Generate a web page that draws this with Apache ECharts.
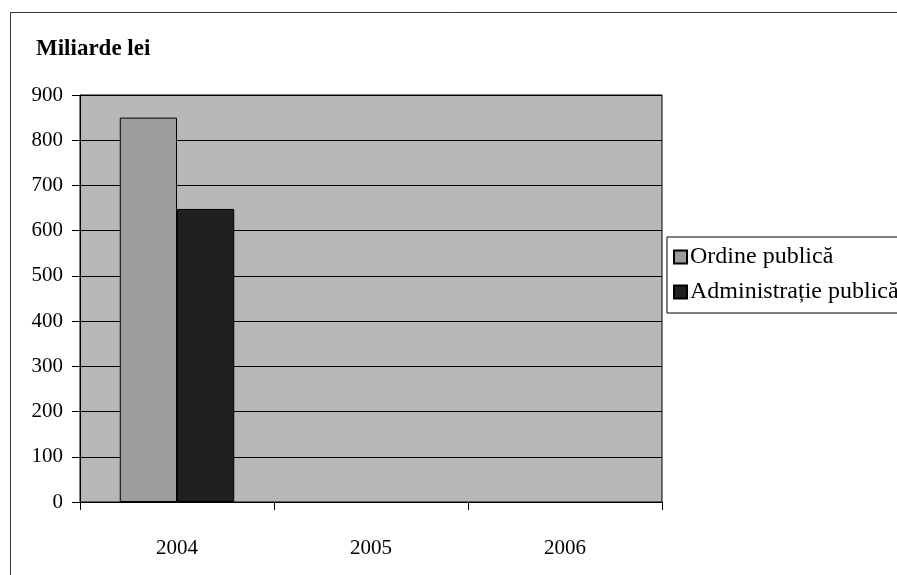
<!DOCTYPE html>
<html><head><meta charset="utf-8">
<script src="https://cdn.jsdelivr.net/npm/echarts@6/dist/echarts.min.js"></script>
<style>html,body{margin:0;padding:0;background:#fff}#c{width:897px;height:575px}</style>
</head><body><div id="c"></div>
<script>
const categories = ['2004', '2005', '2006'];
const ordinePublica = [850, null, null];
const administratiePublica = [648, null, null];
const yTicks = [0, 100, 200, 300, 400, 500, 600, 700, 800, 900];

const chart = echarts.init(document.getElementById('c'));
const serif = '"Liberation Serif", "DejaVu Serif", serif';
chart.setOption({
  animation: false,
  backgroundColor: '#fff',
  title: {
    text: 'Miliarde lei', left: 31, top: 33,
    textStyle: { fontFamily: serif, fontSize: 23, fontWeight: 'bold', color: '#000' }
  },
  graphic: [{
    type: 'rect', shape: { x: 10.5, y: 12.5, width: 900, height: 600 },
    style: { fill: 'none', stroke: '#333', lineWidth: 1 }, silent: true
  }],
  legend: {
    orient: 'vertical', left: 667, top: 237,
    itemWidth: 13, itemHeight: 13, itemGap: 11,
    padding: [8, 30, 9, 6],
    borderColor: '#000', borderWidth: 1, backgroundColor: '#fff',
    icon: 'rect',
    textStyle: { fontFamily: serif, fontSize: 24, color: '#000', padding: [0, 0, 0, -2] },
    data: ['Ordine publică', 'Administrație publică']
  },
  grid: {
    left: 80, top: 95, width: 582, height: 407,
    show: true, backgroundColor: '#b7b7b7', borderColor: '#000', borderWidth: 1
  },
  xAxis: {
    type: 'category', data: categories,
    axisLine: { lineStyle: { color: '#000' } },
    axisTick: { show: true, length: 8, lineStyle: { color: '#000' } },
    axisLabel: { fontFamily: serif, fontSize: 21, color: '#000', margin: 36 }
  },
  yAxis: {
    type: 'value', min: 0, max: 900, interval: 100,
    axisLine: { show: true, lineStyle: { color: '#000' } },
    axisTick: { show: true, length: 8, lineStyle: { color: '#000' } },
    splitLine: { lineStyle: { color: '#000', width: 1 } },
    axisLabel: { fontFamily: serif, fontSize: 21, color: '#000', margin: 17,
      formatter: v => yTicks.includes(v) ? String(v) : '' }
  },
  series: [
    { name: 'Ordine publică', type: 'bar', data: ordinePublica,
      barGap: '0%', barCategoryGap: '41%',
      itemStyle: { color: '#9c9c9c', borderColor: '#000', borderWidth: 1 } },
    { name: 'Administrație publică', type: 'bar', data: administratiePublica,
      itemStyle: { color: '#202020', borderColor: '#000', borderWidth: 1 } }
  ]
});
</script></body></html>
